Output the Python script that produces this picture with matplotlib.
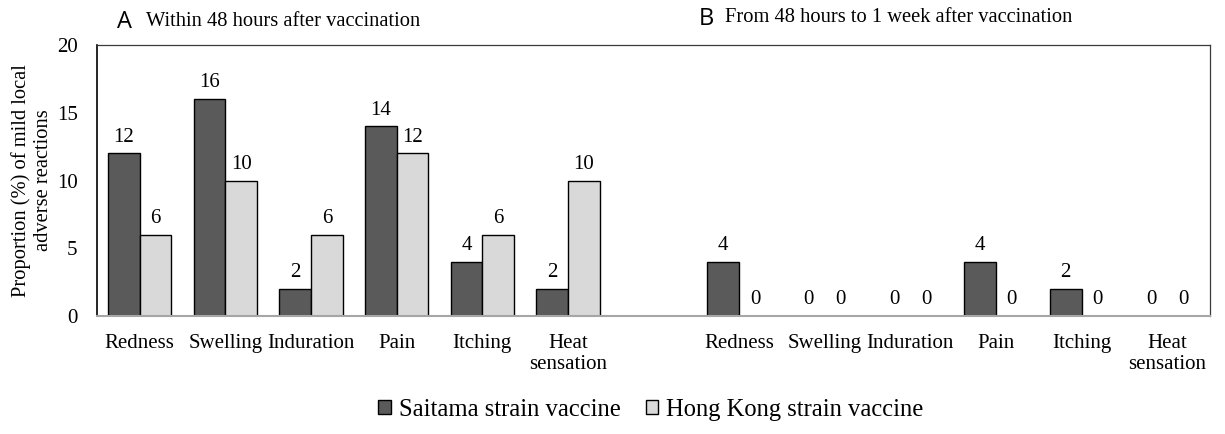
import matplotlib
matplotlib.use("Agg")
import matplotlib.pyplot as plt
import numpy as np

categories = ["Redness", "Swelling", "Induration", "Pain", "Itching", "Heat\nsensation"]
saitama_48h = [12, 16, 2, 14, 4, 2]
hongkong_48h = [6, 10, 6, 12, 6, 10]
saitama_1wk = [4, 0, 0, 4, 2, 0]
hongkong_1wk = [0, 0, 0, 0, 0, 0]
yticks = [0, 5, 10, 15, 20]

SERIF = "Liberation Serif"
DARK = "#5a5a5a"
LIGHT = "#d9d9d9"
FS = 15

fig = plt.figure(figsize=(12.25, 4.34), dpi=100)
ax = fig.add_axes([97/1225, 1 - 316/434, (1210-97)/1225, (316-45)/434])

n = len(categories)
posA = np.arange(n)
posB = np.arange(n) + n + 1
w = 0.37

def draw(pos, s, h):
    b1 = ax.bar(pos - w/2, s, w, color=DARK, edgecolor="black", linewidth=1.0, zorder=2)
    b2 = ax.bar(pos + w/2, h, w, color=LIGHT, edgecolor="black", linewidth=1.0, zorder=2)
    for p, v in zip(pos, s):
        ax.text(p - w/2, v + 0.5, f"{v}", ha="center", va="bottom", fontsize=FS, family=SERIF)
    for p, v in zip(pos, h):
        ax.text(p + w/2, v + 0.5, f"{v}", ha="center", va="bottom", fontsize=FS, family=SERIF)
    return b1, b2

b1, b2 = draw(posA, saitama_48h, hongkong_48h)
draw(posB, saitama_1wk, hongkong_1wk)

ax.set_xlim(-0.5, 2*n + 0.5)
ax.set_ylim(0, 20)
ax.set_yticks(yticks)
ax.set_yticklabels([str(t) for t in yticks], fontsize=FS, family=SERIF)
ax.set_xticks(list(posA) + list(posB))
ax.set_xticklabels(categories + categories, fontsize=FS, family=SERIF, va="top", linespacing=1.15)
ax.tick_params(axis="both", length=0)
ax.tick_params(axis="x", pad=13)
ax.tick_params(axis="y", pad=14)

ax.spines["left"].set_color("black")
ax.spines["left"].set_linewidth(1.2)
ax.spines["bottom"].set_color("#a6a6a6")
ax.spines["bottom"].set_linewidth(1.5)
ax.spines["bottom"].set_zorder(3)
for s in ["top", "right"]:
    ax.spines[s].set_color("#3a3a3a")
    ax.spines[s].set_linewidth(0.9)

ax.set_ylabel("Proportion (%) of mild local\nadverse reactions", fontsize=14.8, family=SERIF,
              linespacing=1.15, labelpad=3)

fig.text(117/1225, 1 - 22/434, "A", fontsize=17, family="Open Sans", va="center", ha="left")
fig.text(146/1225, 1 - 21/434, "Within 48 hours after vaccination", fontsize=14.8, family=SERIF,
         va="center", ha="left")
fig.text(699/1225, 1 - 19/434, "B", fontsize=17, family="Open Sans", va="center", ha="left")
fig.text(725/1225, 1 - 18/434, "From 48 hours to 1 week after vaccination", fontsize=14.8,
         family=SERIF, va="center", ha="left")

leg = fig.legend([b1, b2], ["Saitama strain vaccine", "Hong Kong strain vaccine"],
                 loc="center", bbox_to_anchor=(651/1225, 1 - 410/434), ncol=2, frameon=False,
                 prop={"family": SERIF, "size": 17.7}, handlelength=0.5, handleheight=0.5,
                 handletextpad=0.35, columnspacing=1.0)

fig.savefig("out.png", dpi=100)
